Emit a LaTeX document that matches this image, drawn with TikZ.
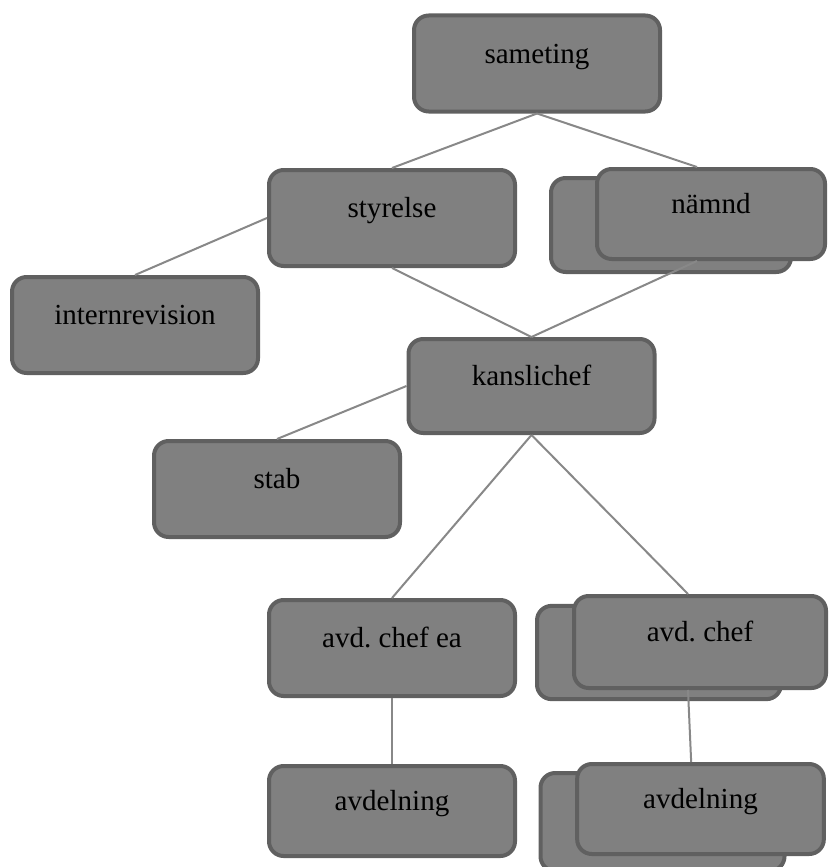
\documentclass[tikz,border=0pt]{standalone}
\usepackage{fontspec}
\setmainfont{Liberation Serif}
\frenchspacing
\begin{document}
\begin{tikzpicture}[x=0.75pt,y=-0.75pt]
% Define colors
\definecolor{boxfill}{RGB}{128,128,128}
\definecolor{boxline}{RGB}{96,96,96}
\definecolor{linkcolor}{RGB}{136,136,136}
\tikzset{
  orgbox/.style={draw=boxline, fill=boxfill, line width=3pt, rounded corners=11pt,
    minimum width=184.5pt, minimum height=72pt, inner sep=0pt,
    font=\fontsize{21.8}{26}\selectfont, text height=15.2pt, text depth=15.6pt},
  link/.style={draw=linkcolor, line width=1.5pt}
}
\useasboundingbox (0,0) rectangle (831,867);

% Top levels
\node[orgbox] (sameting) at (537,63.5) {sameting};
\node[orgbox] (styrelse) at (392,218) {styrelse};
\node[orgbox, minimum width=180pt, minimum height=70.5pt] (namndbak) at (671,225) {};
\node[orgbox, minimum width=171pt, minimum height=67.5pt] (namnd) at (711,214) {nämnd};
\node[orgbox] (internrevision) at (135,325) {internrevision};

% Office
\node[orgbox, minimum height=70.5pt] (kanslichef) at (531.5,386) {kanslichef};
\node[orgbox] (stab) at (277,489) {stab};

% Departments
\node[orgbox] (avdchefea) at (392,648) {avd. chef ea};
\node[orgbox, minimum width=183pt, minimum height=70pt] (avdchefbak) at (659,652.5) {};
\node[orgbox, minimum width=189pt, minimum height=69pt] (avdchef) at (700,642) {avd. chef};
\node[orgbox, minimum height=67.5pt] (avdelning) at (392,811) {avdelning};
\node[orgbox, minimum width=183pt, minimum height=73.5pt] (avdelningbak) at (662.5,822) {};
\node[orgbox, minimum width=185pt, minimum height=67.5pt] (avdelningb) at (700.5,809) {avdelning};

% Connectors
\draw[link] (sameting.south) -- (styrelse.north);
\draw[link] (sameting.south) -- ([xshift=-10.5pt]namnd.north);
\draw[link] (styrelse.west) -- (internrevision.north);
\draw[link] (styrelse.south) -- (kanslichef.north);
\draw[link] ([xshift=-10.5pt]namnd.south) -- (kanslichef.north);
\draw[link] (kanslichef.west) -- (stab.north);
\draw[link] (kanslichef.south) -- (avdchefea.north);
\draw[link] (kanslichef.south) -- ([xshift=-9pt]avdchef.north);
\draw[link] (avdchefea.south) -- (avdelning.north);
\draw[link] ([xshift=-9pt]avdchef.south) -- ([xshift=-7pt]avdelningb.north);

\end{tikzpicture}
\end{document}
